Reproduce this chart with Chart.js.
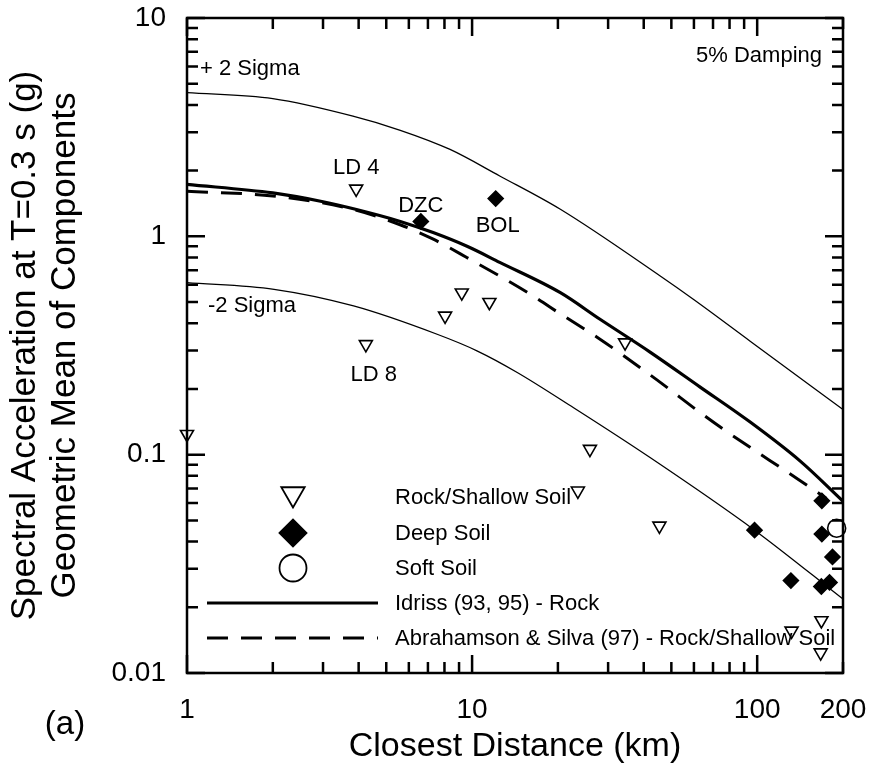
<!DOCTYPE html>
<html>
<head>
<meta charset="utf-8">
<title>Spectral acceleration vs closest distance</title>
<script src="https://cdn.jsdelivr.net/npm/chart.js@4.4.1/dist/chart.umd.min.js"></script>
<style>
  html, body { margin: 0; padding: 0; background: #fff; }
  #wrap { width: 873px; height: 769px; }
</style>
</head>
<body>
<div id="wrap"><canvas id="myChart" width="873" height="769"></canvas></div>
<script>
// recorded stations (distance km, Sa g)
const rockDist = [1, 3.92, 4.24, 8.04, 9.2, 11.5, 23.5, 25.9, 34.4, 45.4, 132, 168, 167]
const rockSa = [0.124, 1.65, 0.32, 0.432, 0.552, 0.499, 0.0683, 0.106, 0.326, 0.0472, 0.0156, 0.0174, 0.0124]
const deepDist = [6.61, 12.1, 97.9, 168.6, 168.6, 183.7, 131.3, 167.9, 179.4]
const deepSa = [1.17, 1.49, 0.0451, 0.0615, 0.0433, 0.034, 0.0265, 0.0249, 0.026]
const softDist = [190]
const softSa = [0.046]

// attenuation relations
const idrissDist = [1, 2, 3, 3.9, 5.6, 7.3, 9.6, 12.5, 20.4, 28.1, 42.1, 63.1, 94.5, 141.6, 200]
const idrissSa = [1.73, 1.58, 1.44, 1.33, 1.17, 1.04, 0.90, 0.76, 0.552, 0.417, 0.295, 0.204, 0.141, 0.0934, 0.0612]
const abrDist = [1, 2, 3.82, 5.59, 7.31, 9.58, 16.4, 18.8, 28.1, 33.9, 44.5, 70.1, 141.6, 175]
const abrSa = [1.61, 1.53, 1.33, 1.13, 0.97, 0.80, 0.533, 0.473, 0.338, 0.285, 0.22, 0.141, 0.076, 0.063]
const plusDist = [1, 2, 3.82, 5.6, 8.37, 12.5, 20.4, 45.7, 59.7, 94.5, 200]
const plusSa = [4.55, 4.27, 3.55, 3.06, 2.50, 1.89, 1.33, 0.658, 0.515, 0.331, 0.161]
const minusDist = [1, 2.02, 3.84, 7.54, 10.4, 14.4, 22.7, 42.1, 97.9, 200]
const minusSa = [0.614, 0.572, 0.48, 0.356, 0.299, 0.238, 0.164, 0.097, 0.0451, 0.0218]

const xTickVals = [1, 2, 3, 4, 5, 6, 7, 8, 9, 10, 20, 30, 40, 50, 60, 70, 80, 90, 100, 200]
const xTickLabels = ['1', '10', '100', '200']
const yTickVals = [0.01, 0.02, 0.03, 0.04, 0.05, 0.06, 0.07, 0.08, 0.09,
  0.1, 0.2, 0.3, 0.4, 0.5, 0.6, 0.7, 0.8, 0.9, 1, 2, 3, 4, 5, 6, 7, 8, 9, 10]
const yTickLabels = ['0.01', '0.1', '1', '10']

const FONT = '"Liberation Sans", Arial, Helvetica, sans-serif'

function pts(xs, ys) {
  return xs.map((v, i) => ({x: v, y: ys[i]}))
}
function isDecade(v) {
  return Math.abs(Math.log10(v) - Math.round(Math.log10(v))) < 1e-6
}

// box round the plot with inward ticks on all four sides
const frameTicks = {
  id: 'frameTicks',
  afterDatasetsDraw(chart) {
    const {ctx, chartArea: a} = chart
    const x = chart.scales.x, y = chart.scales.y
    ctx.save()
    ctx.strokeStyle = '#000'
    ctx.lineWidth = 2.5
    ctx.strokeRect(a.left, a.top, a.right - a.left, a.bottom - a.top)
    ctx.beginPath()
    xTickVals.forEach(v => {
      const px = x.getPixelForValue(v)
      const len = isDecade(v) ? 18 : 11
      ctx.moveTo(px, a.bottom); ctx.lineTo(px, a.bottom - len)
      ctx.moveTo(px, a.top); ctx.lineTo(px, a.top + len)
    })
    yTickVals.forEach(v => {
      const py = y.getPixelForValue(v)
      const len = isDecade(v) ? 18 : 11
      ctx.moveTo(a.left, py); ctx.lineTo(a.left + len, py)
      ctx.moveTo(a.right, py); ctx.lineTo(a.right - len, py)
    })
    ctx.stroke()
    ctx.restore()
  }
}

function marker(ctx, style, r, rot, fill, cx, cy) {
  ctx.fillStyle = fill
  ctx.strokeStyle = '#000'
  ctx.lineWidth = 1.8
  Chart.helpers.drawPoint(ctx, {pointStyle: style, radius: r, rotation: rot, borderWidth: 1.8}, cx, cy)
}

// text notes, legend and panel letter
const notes = {
  id: 'notes',
  afterDraw(chart) {
    const {ctx, chartArea: a} = chart
    const x = chart.scales.x, y = chart.scales.y
    ctx.save()
    ctx.fillStyle = '#000'
    ctx.textBaseline = 'middle'
    ctx.font = '22px ' + FONT

    ctx.textAlign = 'left'
    ctx.fillText('+ 2 Sigma', a.left + 13, a.top + 51)
    ctx.fillText('-2 Sigma', a.left + 21, a.top + 288)
    ctx.textAlign = 'right'
    ctx.fillText('5% Damping', a.right - 21, a.top + 38)

    ctx.textAlign = 'center'
    ctx.fillText('LD 4', x.getPixelForValue(3.92), y.getPixelForValue(1.65) - 21)
    ctx.fillText('DZC', x.getPixelForValue(6.61), y.getPixelForValue(1.17) - 16)
    ctx.fillText('BOL', x.getPixelForValue(12.1) + 2, y.getPixelForValue(1.49) + 27)
    ctx.fillText('LD 8', x.getPixelForValue(4.24) + 8, y.getPixelForValue(0.32) + 31)

    // legend
    const mx = a.left + 106, tx = a.left + 208
    const rows = [a.bottom - 175, a.bottom - 139, a.bottom - 104, a.bottom - 69, a.bottom - 34]
    ctx.save()
    marker(ctx, 'triangle', 13.5, 180, '#fff', mx, rows[0] - 4)
    marker(ctx, 'rectRot', 13.5, 0, '#000', mx, rows[1] - 1)
    marker(ctx, 'circle', 13.5, 0, '#fff', mx, rows[2] - 1)
    ctx.restore()
    ctx.strokeStyle = '#000'
    ctx.lineWidth = 3
    ctx.beginPath()
    ctx.moveTo(a.left + 20, rows[3] - 1); ctx.lineTo(a.left + 191, rows[3] - 1)
    ctx.stroke()
    ctx.setLineDash([21, 13])
    ctx.beginPath()
    ctx.moveTo(a.left + 20, rows[4] - 1); ctx.lineTo(a.left + 191, rows[4] - 1)
    ctx.stroke()
    ctx.setLineDash([])

    ctx.fillStyle = '#000'
    ctx.textAlign = 'left'
    ctx.fillText('Rock/Shallow Soil', tx, rows[0])
    ctx.fillText('Deep Soil', tx, rows[1])
    ctx.fillText('Soft Soil', tx, rows[2])
    ctx.fillText('Idriss (93, 95) - Rock', tx, rows[3])
    ctx.fillText('Abrahamson & Silva (97) - Rock/Shallow Soil', tx, rows[4])

    ctx.font = '33px ' + FONT
    ctx.textAlign = 'center'
    ctx.fillText('(a)', 65, 725)
    ctx.restore()
  }
}

const curve = {showLine: true, pointRadius: 0, borderColor: '#000', cubicInterpolationMode: 'monotone', fill: false}
const dots = {showLine: false, borderColor: '#000', borderWidth: 1.6, clip: false}

var ctx = document.getElementById('myChart').getContext('2d')
const myChart = new Chart(ctx, {
  type: 'scatter',
  data: {
    datasets: [
      {...curve, label: '+ 2 Sigma', data: pts(plusDist, plusSa), borderWidth: 1.3},
      {...curve, label: '-2 Sigma', data: pts(minusDist, minusSa), borderWidth: 1.3},
      {...curve, label: 'Idriss (93, 95) - Rock', data: pts(idrissDist, idrissSa), borderWidth: 3.2},
      {...curve, label: 'Abrahamson & Silva (97) - Rock/Shallow Soil', data: pts(abrDist, abrSa),
        borderWidth: 3, borderDash: [21, 13]},
      {...dots, label: 'Rock/Shallow Soil', data: pts(rockDist, rockSa), pointStyle: 'triangle',
        rotation: 180, pointRadius: 7.5, backgroundColor: '#fff'},
      {...dots, label: 'Deep Soil', data: pts(deepDist, deepSa), pointStyle: 'rectRot',
        pointRadius: 7.5, backgroundColor: '#000'},
      {...dots, label: 'Soft Soil', data: pts(softDist, softSa), pointStyle: 'circle',
        pointRadius: 9, backgroundColor: '#fff'}
    ]
  },
  options: {
    responsive: false,
    animation: false,
    layout: {padding: {top: 18, right: 30, bottom: 0, left: 0}},
    plugins: {
      legend: {display: false},
      tooltip: {enabled: false}
    },
    scales: {
      x: {
        type: 'logarithmic',
        min: 1,
        max: 200,
        afterFit(s) {
          s.height = 96
          s.paddingLeft = 0
          s.paddingRight = 0
        },
        afterBuildTicks(s) { s.ticks = xTickVals.map(v => ({value: v})) },
        grid: {display: false, drawTicks: false},
        border: {display: false},
        ticks: {
          autoSkip: false, maxRotation: 0, minRotation: 0, padding: 20, color: '#000',
          font: {family: FONT, size: 28},
          callback: (v) => xTickLabels.includes(String(v)) ? String(v) : ''
        },
        title: {
          display: true, text: 'Closest Distance (km)', color: '#000',
          font: {family: FONT, size: 34, lineHeight: 1.2}, padding: {top: 0, bottom: 2}
        }
      },
      y: {
        type: 'logarithmic',
        min: 0.01,
        max: 10,
        afterFit(s) {
          s.width = 187
          s.paddingTop = 0
          s.paddingBottom = 0
        },
        afterBuildTicks(s) { s.ticks = yTickVals.map(v => ({value: v})) },
        grid: {display: false, drawTicks: false},
        border: {display: false},
        ticks: {
          autoSkip: false, padding: 21, color: '#000',
          font: {family: FONT, size: 28},
          callback: (v) => yTickLabels.includes(String(v)) ? String(v) : ''
        },
        title: {
          display: true,
          text: ['Spectral Acceleration at T=0.3 s (g)', 'Geometric Mean of Components'],
          color: '#000',
          font: {family: FONT, size: 35, lineHeight: 1.13}, padding: {top: 6, bottom: 0}
        }
      }
    }
  },
  plugins: [frameTicks, notes]
})
</script>
</body>
</html>
